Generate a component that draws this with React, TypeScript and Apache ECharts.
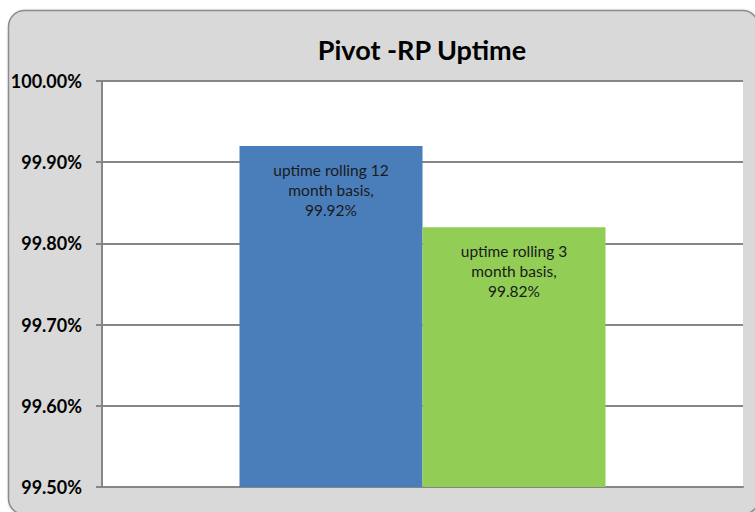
import React, { useEffect, useRef } from "react";
import * as echarts from "echarts";

const seriesNames = ["uptime rolling 12 month basis", "uptime rolling 3 month basis"];
const seriesValues = [99.92, 99.82];
const seriesColors = ["#4a7ebb", "#92cd56"];
const category = ["Pivot -RP"];
const labelLines = [
  ["uptime rolling 12", "month basis,"],
  ["uptime rolling 3", "month basis,"],
];

export default function App() {
  const ref = useRef<HTMLDivElement>(null);
  useEffect(() => {
    const chart = echarts.init(ref.current!, null, { renderer: "svg" });
    chart.setOption({
      animation: false,
      backgroundColor: "#ffffff",
      title: {
        text: "Pivot -RP Uptime",
        left: 417,
        top: 31,
        textAlign: "center",
        textStyle: { fontFamily: "Lato", fontWeight: "bold", fontSize: 27, color: "#000" },
      },
      graphic: [
        {
          type: "rect",
          z: -10,
          shape: { x: 8.5, y: 10.5, width: 750, height: 504, r: 16 },
          style: { fill: "#d9d9d9", stroke: "#8c8c8c", lineWidth: 1.5, shadowBlur: 3, shadowColor: "rgba(0,0,0,0.3)", shadowOffsetX: 1, shadowOffsetY: 1 },
        },
      ],
      grid: { left: 102, right: 12, top: 81, bottom: 25, show: true, backgroundColor: "#ffffff", borderWidth: 0 },
      xAxis: {
        type: "category",
        data: category,
        axisLine: { lineStyle: { color: "#868686", width: 2 } },
        axisTick: { show: false },
        axisLabel: { show: false },
      },
      yAxis: {
        type: "value",
        min: 99.5,
        max: 100,
        interval: 0.1,
        axisLine: { show: true, lineStyle: { color: "#868686", width: 2 } },
        axisTick: { show: true, length: 6, lineStyle: { color: "#868686", width: 2 } },
        splitLine: { lineStyle: { color: "#868686", width: 2 } },
        axisLabel: {
          margin: 20,
          fontFamily: "Lato",
          fontWeight: "bold",
          fontSize: 18,
          color: "#000",
          formatter: (v: number) => v.toFixed(2) + "%",
        },
      },
      series: seriesValues.map((v, i) => ({
        type: "bar",
        name: seriesNames[i],
        data: [v],
        barWidth: 183,
        barGap: "0%",
        itemStyle: { color: seriesColors[i] },
        label: {
          show: true,
          position: "insideTop",
          distance: 14,
          fontFamily: "Lato",
          fontSize: 15.5,
          lineHeight: 20,
          color: "#1a1a1a",
          align: "center",
          formatter: () => labelLines[i].join("\n") + "\n" + v.toFixed(2) + "%",
        },
      })),
    });
    return () => chart.dispose();
  }, []);
  return (
    <div style={{ position: "fixed", left: 0, top: 0, width: 755, height: 512 }}>
      <div ref={ref} style={{ width: 755, height: 512 }} />
    </div>
  );
}
